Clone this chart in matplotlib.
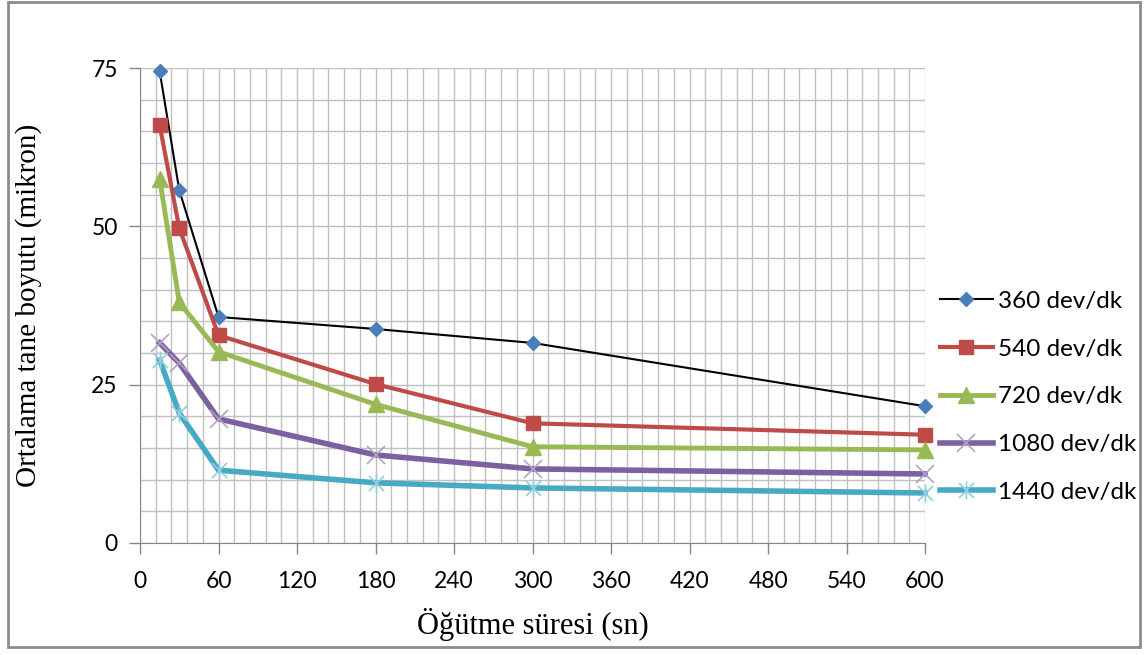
import matplotlib.pyplot as plt
import numpy as np
from matplotlib.path import Path
from matplotlib.patches import Rectangle
from matplotlib.ticker import MultipleLocator

# grinding time (s)
times = [15, 30, 60, 180, 300, 600]

# mean particle size (micron) per mill speed
rpm_360 = [74.5, 55.7, 35.7, 33.8, 31.6, 21.6]
rpm_540 = [66.0, 49.7, 32.8, 25.1, 18.9, 17.1]
rpm_720 = [57.5, 38.0, 30.2, 21.9, 15.2, 14.7]
rpm_1080 = [31.6, 28.4, 19.6, 13.9, 11.7, 10.9]
rpm_1440 = [28.9, 20.5, 11.5, 9.5, 8.7, 7.9]

labels = ['360 dev/dk', '540 dev/dk', '720 dev/dk', '1080 dev/dk', '1440 dev/dk']
x_ticks = [0, 60, 120, 180, 240, 300, 360, 420, 480, 540, 600]
y_ticks = [0, 25, 50, 75]

# excel style asterisk marker (x plus vertical bar)
star = Path([(-1, -1), (1, 1), (-1, 1), (1, -1), (0, -1.2), (0, 1.2)],
            [Path.MOVETO, Path.LINETO, Path.MOVETO, Path.LINETO, Path.MOVETO, Path.LINETO])

styles = [
    dict(color='black', lw=1.5, marker='D', ms=7, mfc='#4A7EBB', mec='#4A7EBB'),
    dict(color='#BE4B48', lw=3, marker='s', ms=10, mfc='#BE4B48', mec='#BE4B48'),
    dict(color='#98B954', lw=3.5, marker='^', ms=12, mfc='#98B954', mec='#98B954'),
    dict(color='#7D60A0', lw=4, marker='x', ms=13, mfc='none', mec='#B3A2C7', mew=1.2),
    dict(color='#46AAC5', lw=4, marker=star, ms=13, mfc='none', mec='#93CDDD', mew=1.2),
]
series = [rpm_360, rpm_540, rpm_720, rpm_1080, rpm_1440]

fig = plt.figure(figsize=(11.46, 6.55), dpi=100)
ax = fig.add_axes([0.1222, 0.171, 0.685, 0.725])

for y, lab, st in zip(series, labels, styles):
    ax.plot(times, y, label=lab, clip_on=False, zorder=3, **st)

ax.set_xlim(0, 600)
ax.set_ylim(0, 75)
ax.set_xticks(x_ticks)
ax.set_yticks(y_ticks)
ax.xaxis.set_minor_locator(MultipleLocator(12))
ax.yaxis.set_minor_locator(MultipleLocator(5))
ax.grid(True, which='both', color='#C0C0C0', lw=1)
ax.set_axisbelow(True)
ax.tick_params(which='minor', length=0)
ax.tick_params(which='major', direction='out', length=8, color='#868686', width=1,
               labelsize=16.5)
ax.tick_params(axis='x', pad=12)
ax.tick_params(axis='y', pad=8)
for lab in ax.get_xticklabels() + ax.get_yticklabels():
    lab.set_family('Lato')
for side in ['top', 'right']:
    ax.spines[side].set_visible(False)
for side in ['left', 'bottom']:
    ax.spines[side].set_color('#868686')

ax.set_xlabel('Öğütme süresi (sn)', family='Liberation Serif', fontsize=22, va='center')
ax.set_ylabel('Ortalama tane boyutu (mikron)', family='Liberation Serif', fontsize=21, va='center')
ax.xaxis.set_label_coords(0.5, -0.172)
ax.yaxis.set_label_coords(-0.142, 0.5)

leg = ax.legend(loc='center left', bbox_to_anchor=(0.820, 0.394), bbox_transform=fig.transFigure,
                frameon=False, handlelength=2.2, handletextpad=0.18, labelspacing=1.1,
                borderpad=0, borderaxespad=0,
                prop={'family': 'Lato', 'size': 17.5})

fig.patches.append(Rectangle((0.007, 0.012), 0.988, 0.985, transform=fig.transFigure,
                             fill=False, edgecolor='#8C8C8C', lw=2))

fig.savefig('out.png', dpi=100)
